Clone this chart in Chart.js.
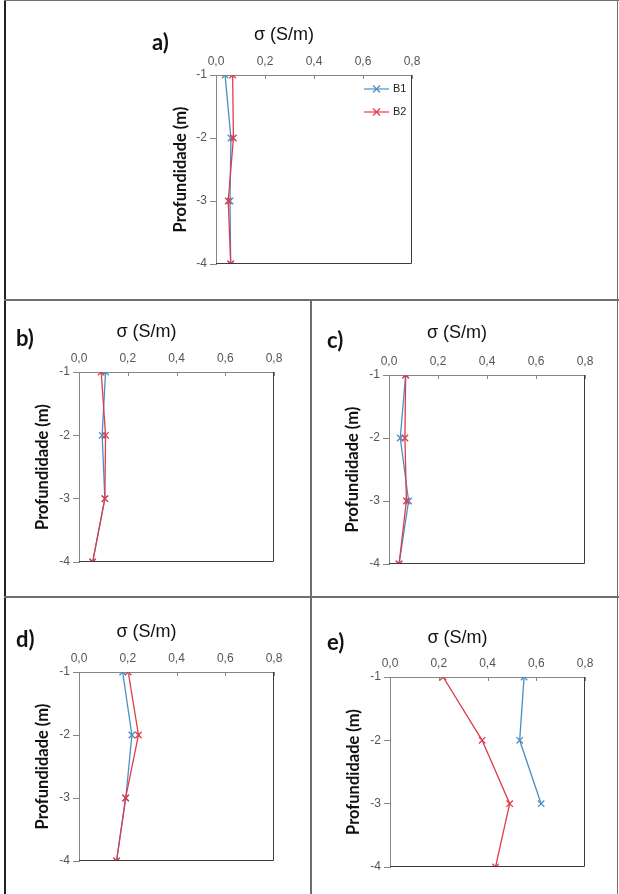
<!DOCTYPE html>
<html>
<head>
<meta charset="utf-8">
<script src="https://cdn.jsdelivr.net/npm/chart.js@4.4.1/dist/chart.umd.min.js"></script>
<style>
  html, body { margin: 0; padding: 0; background: #fff; }
  #page { position: relative; width: 619px; height: 894px; overflow: hidden; background: #fff; }
  canvas { position: absolute; }
  .line { position: absolute; background: #6e6e6e; }
  .letter { position: absolute; font-family: Lato, "Open Sans", sans-serif; font-weight: bold; font-size: 22px; line-height: 26px; color: #111; }
</style>
</head>
<body>
<div id="page">
  <div class="line" style="left:4px; top:0; width:2px; height:894px; background:#222;"></div>
  <div class="line" style="left:4px; top:0; width:615px; height:1px;"></div>
  <div class="line" style="left:617px; top:0; width:1px; height:894px;"></div>
  <div class="line" style="left:4px; top:299px; width:615px; height:2px;"></div>
  <div class="line" style="left:4px; top:596px; width:615px; height:2px;"></div>
  <div class="line" style="left:310px; top:300px; width:2px; height:594px;"></div>
</div>
<script>
// depth of each reading (m)
const depths = [-1, -2, -3, -4];
const xTicks = [0, 0.2, 0.4, 0.6, 0.8];
const seriesNames = ["B1", "B2"];

// conductivity σ (S/m) per panel
const aB1 = [0.037, 0.061, 0.057, 0.060];
const aB2 = [0.068, 0.071, 0.050, 0.060];
const bB1 = [0.109, 0.095, 0.106, 0.056];
const bB2 = [0.091, 0.109, 0.106, 0.056];
const cB1 = [0.068, 0.046, 0.080, 0.041];
const cB2 = [0.068, 0.065, 0.071, 0.041];
const dB1 = [0.179, 0.217, 0.192, 0.154];
const dB2 = [0.202, 0.244, 0.191, 0.154];
const eB1 = [0.550, 0.532, 0.620, null];
const eB2 = [0.218, 0.378, 0.491, 0.433];

const BLUE = "#4a8fc4";
const RED = "#de3c4b";
const AXIS = "#868686";

function toPoints(values) {
  return values
    .map((v, i) => ({ x: v, y: depths[i] }))
    .filter((p) => p.x !== null);
}

// plot frame: right and bottom edges
const frameLines = {
  id: "frameLines",
  afterDraw(chart) {
    const { ctx, chartArea: a } = chart;
    ctx.save();
    ctx.strokeStyle = "#3c3c3c";
    ctx.lineWidth = 1;
    ctx.beginPath();
    ctx.moveTo(Math.round(a.right) - 0.5, a.top);
    ctx.lineTo(Math.round(a.right) - 0.5, Math.round(a.bottom) - 0.5);
    ctx.lineTo(a.left, Math.round(a.bottom) - 0.5);
    ctx.stroke();
    // small inner tick marks on the top axis
    const xs = chart.scales.x;
    ctx.strokeStyle = AXIS;
    xs.ticks.forEach((t) => {
      const px = Math.round(xs.getPixelForValue(t.value)) + 0.5;
      ctx.beginPath();
      ctx.moveTo(px, a.top);
      ctx.lineTo(px, a.top + 4);
      ctx.stroke();
    });
    ctx.restore();
  },
};

function drawCross(ctx, x, y, r) {
  ctx.beginPath();
  ctx.moveTo(x - r, y - r);
  ctx.lineTo(x + r, y + r);
  ctx.moveTo(x - r, y + r);
  ctx.lineTo(x + r, y - r);
  ctx.stroke();
}

// legend inside the plot, top right, line + marker like the original
const innerLegend = {
  id: "innerLegend",
  afterDraw(chart) {
    const { ctx, chartArea: a } = chart;
    ctx.save();
    ctx.font = "11px 'Liberation Sans', Arial, sans-serif";
    ctx.textBaseline = "middle";
    seriesNames.forEach((name, i) => {
      const ds = chart.data.datasets.find((d) => d.label === name);
      const y = a.top + 14 + i * 23;
      const x0 = a.right - 48;
      ctx.strokeStyle = ds.borderColor;
      ctx.lineWidth = 1.2;
      ctx.beginPath();
      ctx.moveTo(x0, y);
      ctx.lineTo(x0 + 25, y);
      ctx.stroke();
      drawCross(ctx, x0 + 12.5, y, 3.5);
      ctx.fillStyle = "#222";
      ctx.fillText(name, a.right - 19, y);
    });
    ctx.restore();
  },
};

function makePanel(g, b1, b2, withLegend) {
  const yAxisW = 60;
  const left = Math.round(g.L - yAxisW);
  const width = Math.round(2 * (g.tcx - left));
  const top = Math.round(g.tcy - 14.8);
  const height = Math.round(g.B - top + 12);
  const titleSize = 18;
  const titleBlock = 4 + titleSize * 1.2;
  const xAxisH = g.T - top - titleBlock;
  const ySize = 16.5;
  const yTitlePad = g.ycx - left - (ySize * 1.2) / 2;

  const canvas = document.createElement("canvas");
  canvas.width = width;
  canvas.height = height;
  canvas.style.left = left + "px";
  canvas.style.top = top + "px";
  canvas.style.width = width + "px";
  canvas.style.height = height + "px";
  document.getElementById("page").appendChild(canvas);

  const letter = document.createElement("div");
  letter.className = "letter";
  letter.textContent = g.letter;
  letter.style.left = g.lx + "px";
  letter.style.top = g.ly - 13 + "px";
  document.getElementById("page").appendChild(letter);

  const tickFont = { family: "'Liberation Sans', Arial, sans-serif", size: 12 };

  new Chart(canvas, {
    type: "scatter",
    data: {
      datasets: [
        {
          label: seriesNames[0],
          data: toPoints(b1),
          showLine: true,
          borderColor: BLUE,
          backgroundColor: BLUE,
          borderWidth: 1.3,
          pointStyle: "crossRot",
          pointRadius: 4.5,
          pointBorderWidth: 1.3,
          order: 1,
        },
        {
          label: seriesNames[1],
          data: toPoints(b2),
          showLine: true,
          borderColor: RED,
          backgroundColor: RED,
          borderWidth: 1.3,
          pointStyle: "crossRot",
          pointRadius: 4.5,
          pointBorderWidth: 1.3,
          order: 0,
        },
      ],
    },
    options: {
      responsive: false,
      animation: false,
      devicePixelRatio: 1,
      layout: {
        padding: {
          left: 0,
          top: 0,
          right: width - yAxisW - (g.R - g.L),
          bottom: height - (g.B - top),
        },
      },
      plugins: {
        legend: { display: false },
        tooltip: { enabled: false },
        title: {
          display: true,
          text: "σ (S/m)",
          color: "#111",
          font: { family: "'Liberation Sans', Arial, sans-serif", size: titleSize, weight: "normal" },
          padding: { top: 4, bottom: 0 },
        },
      },
      scales: {
        x: {
          type: "linear",
          position: "top",
          min: 0,
          max: 0.8,
          afterBuildTicks: (scale) => {
            scale.ticks = xTicks.map((v) => ({ value: v }));
          },
          ticks: {
            padding: 6,
            color: "#555",
            font: tickFont,
            callback: (v) => Number(v).toFixed(1).replace(".", ","),
          },
          grid: { drawOnChartArea: false, drawTicks: false, color: AXIS },
          border: { color: AXIS, width: 1 },
          afterFit: (scale) => {
            scale.height = xAxisH;
          },
        },
        y: {
          type: "linear",
          position: "left",
          min: -4,
          max: -1,
          afterBuildTicks: (scale) => {
            scale.ticks = depths.map((v) => ({ value: v }));
          },
          ticks: { padding: 3, color: "#555", font: tickFont },
          grid: { drawOnChartArea: false, tickLength: 6, color: AXIS },
          border: { color: AXIS, width: 1 },
          title: {
            display: true,
            text: "Profundidade (m)",
            color: "#111",
            font: { family: "Lato, 'Open Sans', sans-serif", size: ySize, weight: "bold" },
            padding: { top: yTitlePad, bottom: 0 },
          },
          afterFit: (scale) => {
            scale.width = yAxisW;
          },
        },
      },
    },
    plugins: withLegend ? [frameLines, innerLegend] : [frameLines],
  });
}

makePanel({ L: 216, T: 75, R: 412, B: 264, tcx: 305, tcy: 35, ycx: 181, letter: "a)", lx: 152, ly: 42 }, aB1, aB2, true);
makePanel({ L: 79, T: 372, R: 274, B: 562, tcx: 167, tcy: 332, ycx: 43, letter: "b)", lx: 16, ly: 338 }, bB1, bB2, false);
makePanel({ L: 389, T: 375, R: 585, B: 564, tcx: 477, tcy: 333, ycx: 353, letter: "c)", lx: 327, ly: 340 }, cB1, cB2, false);
makePanel({ L: 79, T: 672, R: 274, B: 861, tcx: 167, tcy: 632, ycx: 43, letter: "d)", lx: 16, ly: 639 }, dB1, dB2, false);
makePanel({ L: 390, T: 677, R: 585, B: 867, tcx: 479, tcy: 638, ycx: 354, letter: "e)", lx: 327, ly: 642 }, eB1, eB2, false);
</script>
</body>
</html>
